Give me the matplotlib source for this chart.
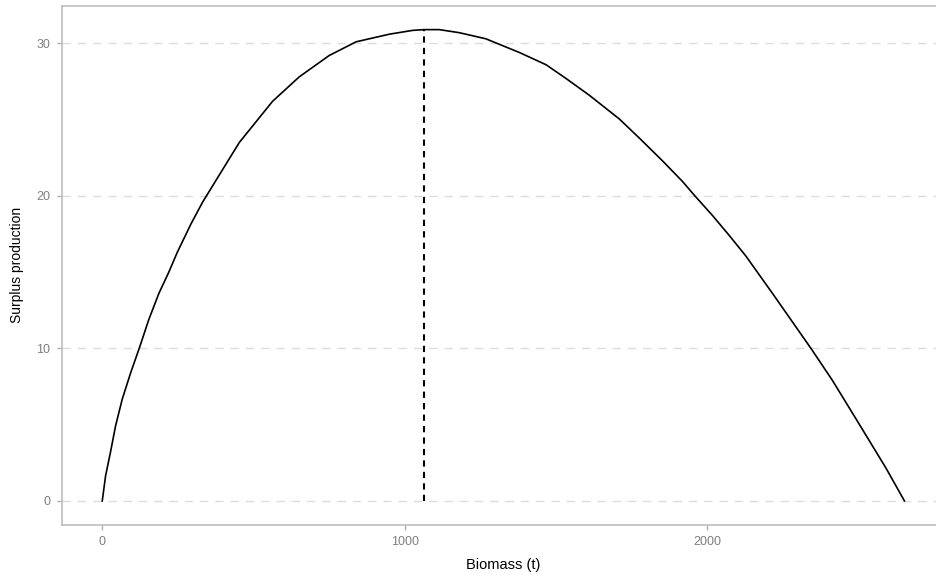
"""Surplus production curve against biomass."""

import matplotlib
matplotlib.use("Agg")
import matplotlib.pyplot as plt

# values
biomass = [0, 11, 27, 44, 66, 94, 123, 154, 187, 220, 248, 293, 332, 453,
           563, 651, 750, 839, 949, 1026, 1064, 1114, 1180, 1268, 1379, 1467,
           1533, 1610, 1709, 1775, 1852, 1918, 1957, 2018, 2073, 2128, 2216,
           2343, 2414, 2502, 2591, 2652]
surplus = [0, 1.65, 3.18, 4.92, 6.67, 8.41, 10.05, 11.9, 13.6, 15.0, 16.3,
           18.15, 19.6, 23.5, 26.2, 27.8, 29.2, 30.1, 30.6, 30.85, 30.9, 30.9,
           30.7, 30.3, 29.4, 28.6, 27.7, 26.6, 25.05, 23.8, 22.3, 20.95,
           20.05, 18.7, 17.4, 16.05, 13.6, 10.0, 7.9, 5.05, 2.15, 0]
b_msy = 1064
msy = 30.9
x_ticks = [0, 1000, 2000]
y_ticks = [0, 10, 20, 30]

plt.rcParams["font.family"] = ["Liberation Sans", "DejaVu Sans"]

fig = plt.figure(figsize=(9.37, 5.75), dpi=100)
ax = fig.add_axes([0.0662, 0.0878, 0.942, 0.9018])

for y in y_ticks:
    ax.axhline(y, color="#dcdcdc", lw=1.0, ls=(0, (6, 5)), zorder=0)

ax.plot(biomass, surplus, color="black", lw=1.2)
ax.plot([b_msy, b_msy], [0, msy], color="black", lw=1.5, ls=(0, (3, 2.5)))

ax.set_xlim(-133, 2785)
ax.set_ylim(-1.545, 32.45)
ax.set_xticks(x_ticks)
ax.set_yticks(y_ticks)
ax.tick_params(colors="#b0b0b0", length=3.5, width=1.0, labelsize=9,
               labelcolor="#7f7f7f", pad=5)
for side in ["top", "bottom", "left", "right"]:
    ax.spines[side].set_color("#bdbdbd")
    ax.spines[side].set_linewidth(1.2)

ax.set_xlabel("Biomass (t)", fontsize=10.5, labelpad=7)
ax.set_ylabel("Surplus production", fontsize=10, labelpad=9)

fig.savefig("out.png", dpi=100)
plt.close(fig)
